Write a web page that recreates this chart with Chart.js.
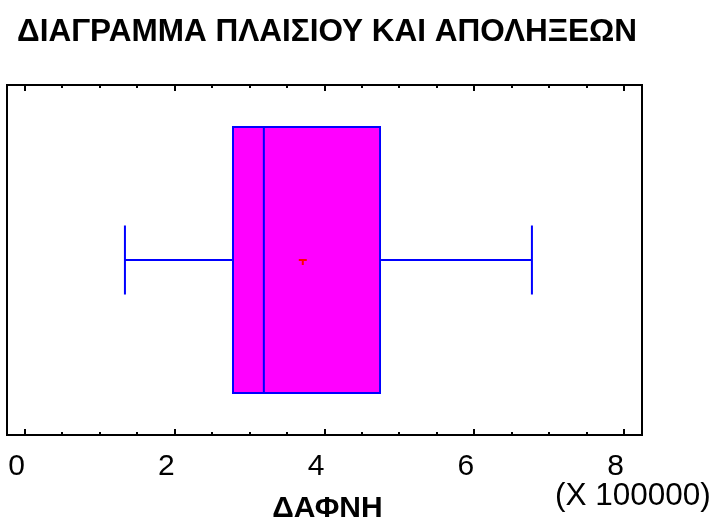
<!DOCTYPE html>
<html>
<head>
<meta charset="utf-8">
<script src="https://cdn.jsdelivr.net/npm/chart.js@4/dist/chart.umd.min.js"></script>
<style>
  html, body { margin: 0; padding: 0; background: #ffffff; }
  #wrap { width: 718px; height: 521px; }
</style>
</head>
<body>
<div id="wrap"><canvas id="c" width="718" height="521"></canvas></div>
<script>
// Box-and-whisker summary (values in units of 100000)
const chartTitle = 'ΔΙΑΓΡΑΜΜΑ ΠΛΑΙΣΙΟΥ ΚΑΙ ΑΠΟΛΗΞΕΩΝ';
const categories = ['ΔΑΦΝΗ'];
const minValues = [1.335];
const q1Values = [2.765];
const medianValues = [3.19];
const q3Values = [4.755];
const maxValues = [6.77];
const meanValues = [3.71];
const tickValues = [0, 2, 4, 6, 8];
const tickLabels = ['0', '2', '4', '6', '8'];
const axisTitle = 'ΔΑΦΝΗ';
const scaleNote = '(X 100000)';

const FONT = "'Liberation Sans', Arial, sans-serif";

function boldText(ctx, text, x, y, align, size) {
  ctx.save();
  ctx.font = 'bold ' + size + 'px ' + FONT;
  ctx.textBaseline = 'alphabetic';
  ctx.textAlign = align;
  ctx.fillStyle = '#000';
  ctx.fillText(text, x, y);
  ctx.restore();
}

const boxExtras = {
  id: 'boxExtras',
  afterDatasetsDraw(chart) {
    const { ctx, chartArea: a, scales: { x, y } } = chart;
    const meta = chart.getDatasetMeta(0);
    ctx.save();
    categories.forEach((cat, i) => {
      const bar = meta.data[i];
      const cy = y.getPixelForValue(i);
      const half = bar.height / 2;
      const capHalf = bar.height * 0.129;
      const px = v => x.getPixelForValue(v);
      ctx.strokeStyle = '#0000FF';
      ctx.lineWidth = 2;
      ctx.beginPath();
      // median
      ctx.moveTo(px(medianValues[i]), cy - half);
      ctx.lineTo(px(medianValues[i]), cy + half);
      // whiskers
      ctx.moveTo(px(minValues[i]), cy);
      ctx.lineTo(px(q1Values[i]), cy);
      ctx.moveTo(px(q3Values[i]), cy);
      ctx.lineTo(px(maxValues[i]), cy);
      // caps
      ctx.moveTo(px(minValues[i]), cy - capHalf);
      ctx.lineTo(px(minValues[i]), cy + capHalf);
      ctx.moveTo(px(maxValues[i]), cy - capHalf);
      ctx.lineTo(px(maxValues[i]), cy + capHalf);
      ctx.stroke();
      // mean marker
      const mx = px(meanValues[i]);
      ctx.strokeStyle = '#FF0000';
      ctx.beginPath();
      ctx.moveTo(mx - 4, cy);
      ctx.lineTo(mx + 4, cy);
      ctx.moveTo(mx, cy);
      ctx.lineTo(mx, cy + 5);
      ctx.stroke();
    });

    // frame
    ctx.strokeStyle = '#000';
    ctx.lineWidth = 2;
    ctx.strokeRect(a.left, a.top, a.right - a.left, a.bottom - a.top);

    // inward tick marks on top and bottom edges
    ctx.beginPath();
    for (let v = 0; v <= x.max + 1e-9; v += 0.5) {
      const tx = Math.round(x.getPixelForValue(v));
      const len = tickValues.includes(v) ? 6 : 3;
      ctx.moveTo(tx, a.bottom);
      ctx.lineTo(tx, a.bottom - len);
      ctx.moveTo(tx, a.top);
      ctx.lineTo(tx, a.top + len);
    }
    ctx.stroke();
    ctx.restore();

    // titles
    boldText(ctx, chartTitle, 17, 41, 'left', 31.5);
    boldText(ctx, axisTitle, (a.left + a.right) / 2 + 3, 517, 'center', 30);

    ctx.save();
    ctx.font = '31.5px ' + FONT;
    ctx.fillStyle = '#000';
    ctx.textAlign = 'left';
    ctx.textBaseline = 'alphabetic';
    ctx.fillText(scaleNote, 555, 505);
    ctx.restore();
  }
};

new Chart(document.getElementById('c'), {
  type: 'bar',
  data: {
    labels: categories,
    datasets: [{
      data: categories.map((_, i) => [q1Values[i], q3Values[i]]),
      backgroundColor: '#FF00FF',
      borderColor: '#0000FF',
      borderWidth: 2,
      borderSkipped: false,
      barPercentage: 0.766,
      categoryPercentage: 1
    }]
  },
  options: {
    indexAxis: 'y',
    responsive: false,
    animation: false,
    events: [],
    layout: { padding: { left: 7, right: 76, top: 85, bottom: 0 } },
    plugins: { legend: { display: false }, tooltip: { enabled: false } },
    scales: {
      x: {
        type: 'linear',
        min: -0.24,
        max: 8.24,
        afterBuildTicks: s => { s.ticks = tickValues.map(v => ({ value: v })); },
        afterFit: s => { s.height = 86; s.paddingLeft = 0; s.paddingRight = 0; },
        ticks: {
          callback: (v, i) => tickLabels[i],
          align: 'end',
          autoSkip: false,
          maxRotation: 0,
          padding: 14,
          color: '#000',
          font: { family: FONT, size: 30 }
        },
        grid: { display: false, drawTicks: false },
        border: { display: false }
      },
      y: { display: false }
    }
  },
  plugins: [boxExtras]
});
</script>
</body>
</html>
